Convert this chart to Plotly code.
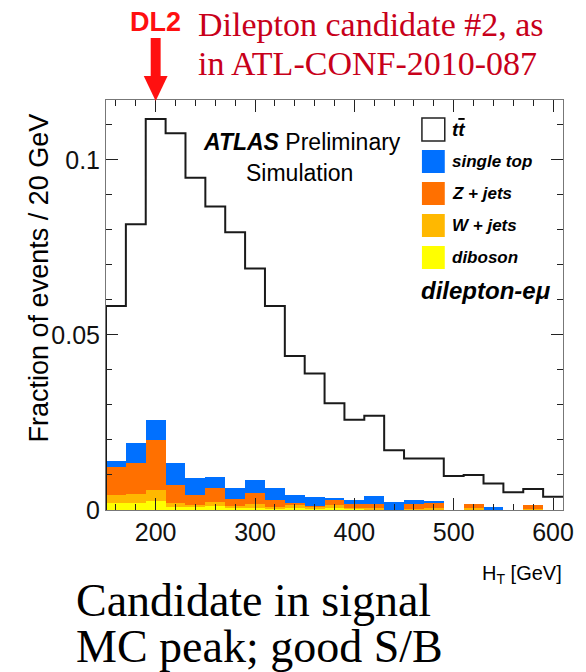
import plotly.graph_objects as go

# ---------------- data ----------------
bin_edges = [150 + 20 * i for i in range(24)]          # H_T bin edges [GeV]
ttbar = [0.0583, 0.0816, 0.1117, 0.1076, 0.0949, 0.0867, 0.0793, 0.0690, 0.0583,
         0.0440, 0.0390, 0.0305, 0.0258, 0.0269, 0.0171, 0.0147, 0.0147, 0.0097,
         0.0100, 0.0076, 0.0051, 0.0060, 0.0038]
diboson = [0.0019, 0.0021, 0.0026, 0.0010, 0.0008, 0.0011, 0.0006, 0.0007, 0.0005,
           0.0005, 0.0004, 0.0005, 0.0003, 0.0002, 0, 0, 0, 0, 0, 0, 0, 0, 0]
wjets = [0.0024, 0.0025, 0.0031, 0.0010, 0.0006, 0.0013, 0.0006, 0.0009, 0.0005,
         0.0011, 0.0005, 0.0009, 0.0004, 0.0003, 0, 0.0004, 0.0005, 0, 0.0007, 0, 0,
         0.0004, 0]
zjets = [0.0079, 0.0087, 0.0142, 0.0050, 0.0029, 0.0039, 0.0019, 0.0032, 0.0019,
         0.0003, 0.0003, 0.0017, 0.0009, 0.0011, 0, 0.0012, 0.0017, 0, 0.0009, 0, 0,
         0.0010, 0]
singletop = [0.0019, 0.0057, 0.0058, 0.0063, 0.0049, 0.0032, 0.0033, 0.0037, 0.0035,
             0.0024, 0.0024, 0.0004, 0.0012, 0.0025, 0.0024, 0.0013, 0.0002, 0, 0,
             0.0008, 0, 0, 0]
candidate_ht = 200

legend_labels = ["t<span style='text-decoration:overline'>t</span>", "single top",
                 "Z + jets", "W + jets", "diboson"]
colors = {"singletop": "#0070ff", "zjets": "#ff7000", "wjets": "#ffb800", "diboson": "#ffff00"}

# ---------------- geometry helpers (pixels -> paper) ----------------
L, R, T, B = 106, 566, 100, 510
W, H = 586, 672
def X(px):
    return (px - L) / (R - L)
def Y(py):
    return (B - py) / (B - T)

centers = [(bin_edges[i] + bin_edges[i + 1]) / 2 for i in range(len(ttbar))]
widths = [bin_edges[i + 1] - bin_edges[i] for i in range(len(ttbar))]

fig = go.Figure()
for name, vals, key in [("diboson", diboson, "diboson"), ("W + jets", wjets, "wjets"),
                        ("Z + jets", zjets, "zjets"), ("single top", singletop, "singletop")]:
    fig.add_trace(go.Bar(x=centers, y=vals, width=widths, name=name,
                         marker=dict(color=colors[key], line=dict(width=0)),
                         showlegend=False))

step_x = [bin_edges[0]] + bin_edges[:-1] + [bin_edges[-1]]
step_y = [0] + ttbar + [ttbar[-1]]
fig.add_trace(go.Scatter(x=step_x, y=step_y, mode="lines", line_shape="hv",
                         line=dict(color="#1a1a1a", width=2), showlegend=False))

shapes = []
annotations = []
SANS = "Liberation Sans, Arial, sans-serif"
SERIF = "Liberation Serif, Times New Roman, serif"

# legend boxes
box_rows = [129.5, 161.5, 193.5, 225.5, 257.5]
box_fill = ["white", colors["singletop"], colors["zjets"], colors["wjets"], colors["diboson"]]
for i, (cy, fc, lab) in enumerate(zip(box_rows, box_fill, legend_labels)):
    shapes.append(dict(type="rect", xref="paper", yref="paper",
                       x0=X(424), x1=X(447), y0=Y(cy + 11.5), y1=Y(cy - 11.5),
                       fillcolor=fc,
                       line=dict(color="#222" if i == 0 else fc, width=1.5 if i == 0 else 0)))
    annotations.append(dict(xref="paper", yref="paper", x=X(452), y=Y(cy), xanchor="left",
                            yanchor="middle", showarrow=False,
                            text="<b><i>%s</i></b>" % lab,
                            font=dict(family=SANS, size=19 if i == 0 else 17, color="black")))
annotations.append(dict(xref="paper", yref="paper", x=X(421), y=Y(290), xanchor="left",
                        yanchor="middle", showarrow=False, text="<b><i>dilepton-e\u03bc</i></b>",
                        font=dict(family=SANS, size=24, color="black")))

# ATLAS label
annotations.append(dict(xref="paper", yref="paper", x=X(303), y=Y(142), xanchor="center",
                        yanchor="middle", showarrow=False,
                        text="<b><i>ATLAS</i></b> Preliminary",
                        font=dict(family=SANS, size=23, color="black")))
annotations.append(dict(xref="paper", yref="paper", x=X(301), y=Y(173), xanchor="center",
                        yanchor="middle", showarrow=False, text="Simulation",
                        font=dict(family=SANS, size=23, color="black")))

# arrow for candidate
ax_px = candidate_ht - bin_edges[0] + L
shapes.append(dict(type="rect", xref="paper", yref="paper", x0=X(ax_px - 5), x1=X(ax_px + 5),
                   y0=Y(77), y1=Y(38), fillcolor="#ff1010", line=dict(width=0)))
shapes.append(dict(type="path", xref="paper", yref="paper",
                   path="M %f %f L %f %f L %f %f Z" % (X(ax_px - 12), Y(76), X(ax_px + 12), Y(76),
                                                      X(ax_px), Y(101)),
                   fillcolor="#ff1010", line=dict(width=0)))
annotations.append(dict(xref="paper", yref="paper", x=X(ax_px), y=Y(22), xanchor="center",
                        yanchor="middle", showarrow=False, text="<b>DL2</b>",
                        font=dict(family=SANS, size=27, color="#ff1010")))
annotations.append(dict(xref="paper", yref="paper", x=X(197), y=Y(24), xanchor="left",
                        yanchor="middle", showarrow=False, text="Dilepton candidate #2, as",
                        font=dict(family=SERIF, size=34, color="#c8001a")))
annotations.append(dict(xref="paper", yref="paper", x=X(197), y=Y(64), xanchor="left",
                        yanchor="middle", showarrow=False, text="in ATL-CONF-2010-087",
                        font=dict(family=SERIF, size=34, color="#c8001a")))

# axis titles
annotations.append(dict(xref="paper", yref="paper", x=X(39), y=Y(278), xanchor="center",
                        yanchor="middle", showarrow=False, textangle=-90,
                        text="Fraction of events / 20 GeV",
                        font=dict(family=SANS, size=27, color="black")))
annotations.append(dict(xref="paper", yref="paper", x=X(567), y=Y(574), xanchor="right",
                        yanchor="middle", showarrow=False, text="H<sub>T</sub> [GeV]",
                        font=dict(family=SANS, size=20, color="black")))

# bottom comment
annotations.append(dict(xref="paper", yref="paper", x=X(74), y=Y(600), xanchor="left",
                        yanchor="middle", showarrow=False, text="Candidate in signal",
                        font=dict(family=SERIF, size=46, color="black")))
annotations.append(dict(xref="paper", yref="paper", x=X(74), y=Y(646), xanchor="left",
                        yanchor="middle", showarrow=False, text="MC peak; good S/B",
                        font=dict(family=SERIF, size=46, color="black")))

axis_common = dict(showgrid=False, zeroline=False, showline=True, linecolor="#777", linewidth=1,
                   ticks="inside", ticklen=12, tickwidth=1, tickcolor="#222", mirror="ticks",
                   tickfont=dict(family=SANS, size=25, color="#111"))
fig.update_layout(
    width=W, height=H, margin=dict(l=L, r=W - R, t=T, b=H - B),
    paper_bgcolor="white", plot_bgcolor="white", barmode="stack", bargap=0,
    shapes=shapes, annotations=annotations, showlegend=False,
    xaxis=dict(range=[bin_edges[0], bin_edges[-1]], dtick=100, tick0=0,
               minor=dict(ticks="inside", ticklen=6, dtick=20, tick0=0, tickcolor="#222"),
               **axis_common),
    yaxis=dict(range=[0, 0.1171], tickvals=[0, 0.05, 0.1], ticktext=["0", "0.05", "0.1"],
               minor=dict(ticks="inside", ticklen=6, dtick=0.01, tick0=0, tickcolor="#222"),
               **axis_common),
)
fig.write_html("out.html")
